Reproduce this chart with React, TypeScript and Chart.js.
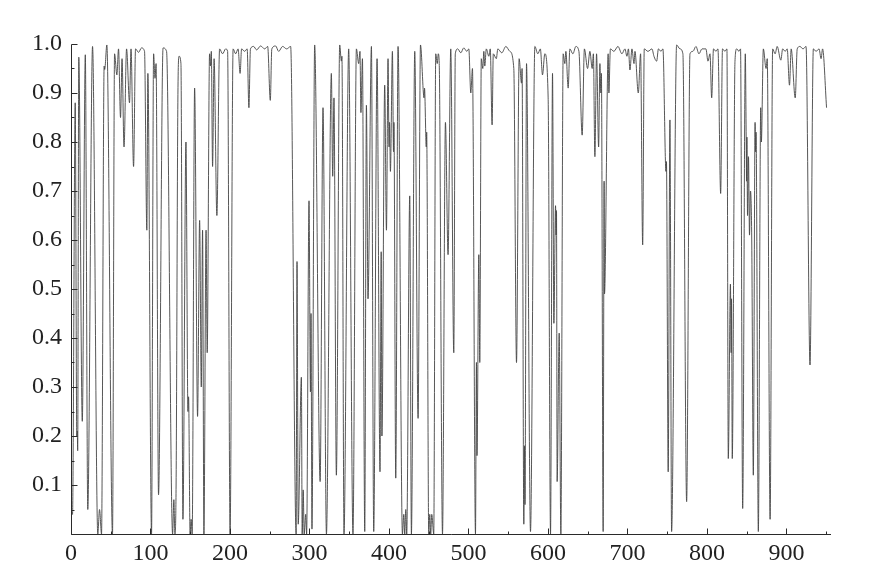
import React, { useEffect, useRef } from "react";
import { Chart, registerables } from "chart.js";

Chart.register(...registerables);

// sample positions (x) and values (y)
const X_VALUES: number[] = [
  0, 1.9, 5.3, 7.3, 7.9, 8.4, 9.8, 14.2, 18.0, 21.1,
  27.1, 33.7, 35.9, 38.4, 41.7, 42.4, 45.1, 52.2, 54.8, 57.7,
  59.8, 62.3, 64.2, 66.7, 69.9, 73.6, 75.5, 78.7, 81.2, 85.0,
  88.7, 92.5, 95.4, 96.7, 101.3, 103.9, 105.7, 107.0, 110.1, 115.8,
  120.2, 127.8, 129.4, 130.7, 132.2, 134.4, 135.9, 138.3, 140.8, 144.6,
  147.1, 147.9, 149.8, 151.1, 152.4, 155.5, 159.2, 161.8, 163.9, 165.5,
  167.2, 169.9, 171.3, 174.3, 175.6, 176.5, 178.1, 180.0, 183.5, 186.9,
  190.7, 194.5, 197.0, 200.1, 203.9, 207.1, 210.2, 212.7, 214.6, 218.4,
  221.6, 223.8, 225.7, 229.7, 233.5, 238.5, 243.6, 247.4, 250.7, 252.6,
  257.4, 261.2, 266.2, 271.3, 276.3, 283.2, 284.3, 285.8, 289.8, 290.8,
  292.1, 293.3, 295.2, 296.4, 299.4, 301.2, 301.9, 303.1, 306.5, 313.4,
  317.0, 321.3, 327.5, 329.2, 330.8, 333.8, 338.0, 340.1, 340.8, 343.4,
  349.3, 354.7, 359.0, 361.9, 363.5, 364.7, 366.6, 369.5, 371.6, 373.6,
  377.9, 380.8, 385.0, 388.7, 390.2, 391.1, 394.6, 396.8, 398.8, 400.1,
  400.7, 401.8, 404.3, 405.7, 406.2, 408.5, 411.4, 416.9, 418.6, 419.8,
  421.1, 422.3, 426.1, 428.2, 432.4, 436.6, 439.6, 444.1, 444.7, 446.9,
  447.4, 450.0, 451.3, 452.5, 453.8, 456.3, 458.8, 460.7, 462.0, 463.2,
  467.3, 471.0, 474.3, 477.7, 481.5, 483.4, 486.5, 490.3, 494.1, 497.9,
  500.4, 502.9, 505.0, 508.8, 510.0, 510.7, 513.0, 514.2, 516.1, 518.0,
  519.3, 520.5, 522.4, 525.6, 527.4, 529.7, 531.2, 535.0, 536.9, 541.9,
  547.0, 552.0, 557.0, 560.4, 563.7, 566.7, 567.4, 569.6, 570.5, 571.1,
  573.0, 578.0, 583.5, 587.2, 590.4, 593.1, 596.0, 600.2, 603.2, 605.7,
  607.4, 609.5, 610.2, 610.7, 611.5, 614.1, 616.2, 619.1, 621.2, 622.5,
  625.4, 627.5, 631.3, 635.1, 638.9, 643.0, 645.8, 649.8, 652.7, 655.6,
  657.1, 659.0, 661.1, 663.7, 665.3, 666.5, 667.2, 669.4, 670.6, 671.1,
  675.7, 676.6, 678.5, 682.9, 688.0, 693.0, 696.8, 699.3, 701.2, 703.1,
  705.6, 708.2, 709.4, 713.6, 716.5, 719.1, 721.1, 725.7, 730.8, 733.3,
  736.7, 738.9, 742.1, 744.6, 748.4, 749.0, 751.2, 753.4, 755.5, 761.8,
  766.0, 769.7, 774.4, 778.6, 782.3, 786.1, 789.9, 793.7, 798.7, 801.2,
  803.8, 805.9, 808.2, 811.3, 813.8, 817.2, 819.5, 822.6, 825.1, 826.8,
  829.5, 830.4, 830.9, 831.8, 835.2, 837.4, 840.3, 842.2, 844.9, 848.2,
  849.3, 849.8, 850.2, 851.0, 852.2, 853.5, 854.7, 856.3, 858.3, 860.5,
  861.2, 861.7, 864.6, 867.6, 868.4, 870.9, 874.3, 875.8, 879.4, 882.6,
  885.7, 888.3, 892.9, 895.2, 898.4, 900.9, 903.8, 905.9, 911.0, 913.5,
  917.0, 920.8, 924.6, 929.6, 933.8, 937.2, 941.0, 943.5, 945.4, 950.4,
];

const Y_VALUES: number[] = [
  0.05, 0.04, 0.88, 0.2, 0.21, 0.17, 0.973, 0.23, 0.978, 0.05,
  0.995, 0.0, 0.05, 0.0, 0.955, 0.948, 0.998, 0.0, 0.98, 0.937,
  0.99, 0.85, 0.97, 0.79, 0.99, 0.88, 0.99, 0.75, 0.99, 0.983,
  0.992, 0.985, 0.62, 0.94, 0.0, 0.98, 0.93, 0.96, 0.08, 0.992,
  0.985, 0.0, 0.07, 0.0, 0.1, 0.88, 0.975, 0.96, 0.03, 0.8,
  0.25, 0.28, 0.0, 0.03, 0.0, 0.91, 0.24, 0.64, 0.3, 0.62,
  0.0, 0.62, 0.37, 0.98, 0.955, 0.985, 0.75, 0.97, 0.65, 0.99,
  0.98, 0.99, 0.985, 0.0, 0.99, 0.98, 0.99, 0.94, 0.99, 0.985,
  0.99, 0.87, 0.99, 0.995, 0.988, 0.996, 0.99, 0.995, 0.885, 0.99,
  0.996, 0.985, 0.995, 0.99, 0.995, 0.0, 0.556, 0.02, 0.32, 0.0,
  0.09, 0.0, 0.04, 0.0, 0.68, 0.29, 0.45, 0.01, 0.998, 0.107,
  0.87, 0.0, 0.94, 0.73, 0.89, 0.12, 0.998, 0.965, 0.975, 0.0,
  0.99, 0.0, 0.99, 0.96, 0.985, 0.86, 0.97, 0.005, 0.875, 0.48,
  0.995, 0.005, 0.97, 0.127, 0.576, 0.2, 0.916, 0.62, 0.97, 0.79,
  0.84, 0.74, 0.985, 0.78, 0.84, 0.114, 0.995, 0.0, 0.04, 0.0,
  0.05, 0.0, 0.69, 0.0, 0.985, 0.236, 0.998, 0.89, 0.91, 0.79,
  0.82, 0.0, 0.04, 0.0, 0.04, 0.0, 0.98, 0.96, 0.98, 0.96,
  0.0, 0.84, 0.57, 0.99, 0.37, 0.98, 0.99, 0.982, 0.992, 0.985,
  0.99, 0.9, 0.95, 0.0, 0.35, 0.16, 0.57, 0.35, 0.97, 0.95,
  0.985, 0.955, 0.99, 0.975, 0.99, 0.835, 0.98, 0.97, 0.99, 0.982,
  0.995, 0.985, 0.95, 0.35, 0.97, 0.92, 0.95, 0.02, 0.18, 0.06,
  0.96, 0.005, 0.995, 0.98, 0.99, 0.937, 0.98, 0.89, 0.0, 0.94,
  0.43, 0.67, 0.61, 0.66, 0.107, 0.41, 0.0, 0.98, 0.96, 0.985,
  0.91, 0.99, 0.98, 0.995, 0.985, 0.814, 0.99, 0.95, 0.985, 0.95,
  0.98, 0.77, 0.98, 0.79, 0.96, 0.9, 0.94, 0.005, 0.72, 0.49,
  0.98, 0.9, 0.99, 0.985, 0.995, 0.98, 0.99, 0.975, 0.99, 0.947,
  0.99, 0.96, 0.985, 0.9, 0.98, 0.59, 0.99, 0.985, 0.99, 0.975,
  0.965, 0.99, 0.985, 0.99, 0.74, 0.76, 0.127, 0.845, 0.005, 0.998,
  0.99, 0.98, 0.066, 0.98, 0.985, 0.995, 0.98, 0.99, 0.99, 0.965,
  0.98, 0.89, 0.99, 0.985, 0.99, 0.695, 0.99, 0.985, 0.99, 0.154,
  0.51, 0.37, 0.48, 0.154, 0.964, 0.99, 0.985, 0.99, 0.052, 0.98,
  0.81, 0.72, 0.81, 0.65, 0.77, 0.61, 0.7, 0.6, 0.12, 0.84,
  0.78, 0.82, 0.005, 0.87, 0.8, 0.99, 0.95, 0.97, 0.03, 0.99,
  0.98, 0.995, 0.967, 0.99, 0.985, 0.99, 0.916, 0.99, 0.89, 0.99,
  0.995, 0.99, 0.995, 0.345, 0.99, 0.985, 0.99, 0.97, 0.99, 0.87,
];

const X_TICKS: number[] = [0, 100, 200, 300, 400, 500, 600, 700, 800, 900];
const Y_TICKS: number[] = [0.1, 0.2, 0.3, 0.4, 0.5, 0.6, 0.7, 0.8, 0.9, 1.0];
const X_MINOR_STEP = 50;
const Y_MINOR_STEP = 0.05;
const X_MAX = 956;

const axisPlugin = {
  id: "axisPlugin",
  afterDatasetsDraw(chart: any) {
    const { ctx, chartArea, scales } = chart;
    const xs = scales.x;
    const ys = scales.y;
    const left = Math.round(chartArea.left) + 0.5;
    const bottom = Math.round(chartArea.bottom) + 0.5;
    const top = Math.round(ys.getPixelForValue(1)) + 0.5;
    const right = xs.getPixelForValue(X_MAX);
    ctx.save();
    ctx.strokeStyle = "#2a2a2a";
    ctx.lineWidth = 1;
    ctx.beginPath();
    ctx.moveTo(left, top);
    ctx.lineTo(left, bottom);
    ctx.lineTo(right, bottom);
    for (let v = 0; v <= X_MAX; v += X_MINOR_STEP) {
      const px = Math.round(xs.getPixelForValue(v)) + 0.5;
      const len = v % 100 === 0 ? 6 : 3;
      ctx.moveTo(px, bottom);
      ctx.lineTo(px, bottom - len);
    }
    for (let i = 0; i <= 20; i++) {
      const v = i * Y_MINOR_STEP;
      const py = Math.round(ys.getPixelForValue(v)) + 0.5;
      const len = i % 2 === 0 ? 6 : 3;
      ctx.moveTo(left, py);
      ctx.lineTo(left + len, py);
    }
    ctx.stroke();
    ctx.restore();
  },
};

export default function App() {
  const ref = useRef<HTMLCanvasElement | null>(null);
  useEffect(() => {
    if (!ref.current) return;
    const data = X_VALUES.map((x, i) => ({ x, y: Y_VALUES[i] }));
    const font = { family: "'Liberation Serif', 'DejaVu Serif', serif", size: 24 };
    const chart = new Chart(ref.current, {
      type: "line",
      data: {
        datasets: [
          {
            data,
            borderColor: "#444",
            borderWidth: 0.9,
            pointRadius: 0,
            cubicInterpolationMode: "monotone",
            fill: false,
          },
        ],
      },
      options: {
        animation: false,
        responsive: false,
        events: [],
        layout: { padding: { left: 0, top: 44, right: 39, bottom: 0 } },
        plugins: { legend: { display: false }, tooltip: { enabled: false } },
        scales: {
          x: {
            type: "linear",
            min: 0,
            max: X_MAX,
            grid: { display: false, drawTicks: false },
            border: { display: false },
            afterBuildTicks: (s: any) => {
              s.ticks = X_TICKS.map((value) => ({ value }));
            },
            afterFit: (s: any) => {
              s.height = 51;
            },
            ticks: {
              font,
              color: "#222",
              padding: 5,
              maxRotation: 0,
              autoSkip: false,
              callback: (v: any) => String(v),
            },
          },
          y: {
            type: "linear",
            min: 0,
            max: 1,
            grid: { display: false, drawTicks: false },
            border: { display: false },
            afterBuildTicks: (s: any) => {
              s.ticks = Y_TICKS.map((value) => ({ value }));
            },
            afterFit: (s: any) => {
              s.width = 71;
            },
            ticks: {
              font,
              color: "#222",
              padding: 9,
              autoSkip: false,
              callback: (v: any) => Number(v).toFixed(1),
            },
          },
        },
      },
      plugins: [axisPlugin],
    });
    return () => chart.destroy();
  }, []);
  return (
    <div style={{ position: "absolute", left: 0, top: 0, width: 870, height: 585, background: "#fff" }}>
      <canvas ref={ref} width={870} height={585} />
    </div>
  );
}
